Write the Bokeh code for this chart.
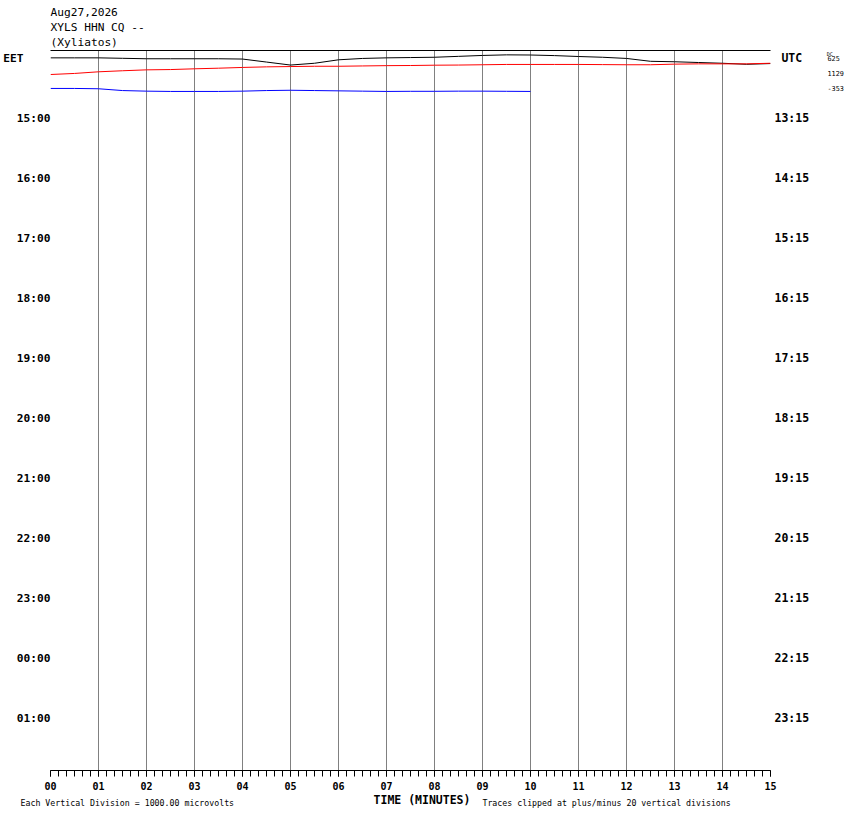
from bokeh.plotting import figure
from bokeh.models import Range1d, LinearAxis, FixedTicker, Label
from bokeh.embed import file_html
from bokeh.resources import INLINE

# ---- data ----
minutes = [i * 0.5 for i in range(31)]  # sample times (minutes)
black_trace = [0.01, 0.01, 0.01, -0.02, -0.05, -0.05, -0.05, -0.05, -0.07, -0.27,
               -0.47, -0.35, -0.12, -0.03, 0.01, 0.03, 0.05, 0.11, 0.17, 0.21,
               0.20, 0.16, 0.10, 0.05, -0.03, -0.22, -0.25, -0.30, -0.35, -0.42, -0.37]
red_trace = [-0.10, -0.03, 0.08, 0.15, 0.21, 0.23, 0.28, 0.32, 0.37, 0.41,
             0.43, 0.45, 0.45, 0.47, 0.49, 0.50, 0.52, 0.53, 0.55, 0.57,
             0.57, 0.57, 0.57, 0.56, 0.55, 0.55, 0.59, 0.61, 0.61, 0.61, 0.65]
blue_minutes = minutes[:21]
blue_trace = [-0.03, -0.03, -0.05, -0.17, -0.21, -0.23, -0.23, -0.23, -0.21, -0.17,
              -0.15, -0.17, -0.19, -0.21, -0.23, -0.22, -0.22, -0.21, -0.21, -0.22, -0.23]
trace_rows = [0, 1, 2]
trace_colors = ["black", "red", "blue"]
dc_offsets = ["625", "1129", "-353"]

eet_labels = ["15:00", "16:00", "17:00", "18:00", "19:00", "20:00",
              "21:00", "22:00", "23:00", "00:00", "01:00"]
utc_labels = ["13:15", "14:15", "15:15", "16:15", "17:15", "18:15",
              "19:15", "20:15", "21:15", "22:15", "23:15"]
minute_labels = ["%02d" % m for m in range(16)]

title_lines = ["Aug27,2026", "XYLS HHN CQ --", "(Xyliatos)"]
footer_left = "Each Vertical Division = 1000.00 microvolts"
footer_right = "Traces clipped at plus/minus 20 vertical divisions"
time_label = "TIME (MINUTES)"

FONT = "DejaVu Sans Mono"
NB = "\u00a0"
n_rows = 48
hour_rows = [4 * (i + 1) for i in range(len(eet_labels))]

p = figure(frame_width=720, frame_height=720,
           x_range=Range1d(0, 15), y_range=Range1d(-(n_rows - 0.5), 0.5),
           output_backend="svg", toolbar_location=None,
           min_border_left=50, min_border_right=78, min_border_top=50, min_border_bottom=44)
p.outline_line_color = None
p.background_fill_color = "white"
p.border_fill_color = "white"

# bottom axis (minutes)
xticker = FixedTicker(ticks=list(range(16)), minor_ticks=[i / 6 for i in range(91)])
xa = p.xaxis[0]
xa.ticker = xticker
xa.major_label_overrides = {i: minute_labels[i] for i in range(16)}
xa.axis_line_color = "black"
xa.major_tick_in = 0
xa.major_tick_out = 6
xa.minor_tick_in = 0
xa.minor_tick_out = 6
xa.major_tick_line_color = "black"
xa.minor_tick_line_color = "black"
xa.major_label_standoff = 5
xa.major_label_text_font = FONT
xa.major_label_text_font_style = "bold"
xa.major_label_text_font_size = "10px"
xa.major_label_text_color = "black"

# left axis (EET)
left_ticks = [0] + [-r for r in hour_rows]
left_over = {0: "EET" + NB * 4}
left_over.update({-r: lab for r, lab in zip(hour_rows, eet_labels)})
ya = p.yaxis[0]
ya.ticker = FixedTicker(ticks=left_ticks, minor_ticks=[])
ya.major_label_overrides = left_over
ya.axis_line_color = None
ya.major_tick_line_color = None
ya.major_tick_in = 0
ya.major_tick_out = 0
ya.minor_tick_line_color = None
ya.minor_tick_out = 0
ya.major_label_standoff = 0
ya.major_label_text_font = FONT
ya.major_label_text_font_style = "bold"
ya.major_label_text_font_size = "11.2px"
ya.major_label_text_color = "black"

# right axis (UTC)
right_over = {0: NB + "UTC"}
right_over.update({-r: lab for r, lab in zip(hour_rows, utc_labels)})
ra = LinearAxis(ticker=FixedTicker(ticks=left_ticks, minor_ticks=[]),
                major_label_overrides=right_over,
                axis_line_color=None, major_tick_line_color=None, minor_tick_line_color=None,
                major_tick_in=0, major_tick_out=0, minor_tick_out=0, major_label_standoff=4,
                major_label_text_font=FONT, major_label_text_font_style="bold",
                major_label_text_font_size="11.5px", major_label_text_color="black")
p.add_layout(ra, "right")

# DC offsets per trace (second right axis)
dca = LinearAxis(ticker=FixedTicker(ticks=[-r for r in trace_rows], minor_ticks=[]),
                 major_label_overrides={-r: d for r, d in zip(trace_rows, dc_offsets)},
                 axis_line_color=None, major_tick_line_color=None, minor_tick_line_color=None,
                 major_tick_in=0, major_tick_out=0, minor_tick_out=0, major_label_standoff=15,
                 major_label_text_font=FONT, major_label_text_font_size="6.8px",
                 major_label_text_color="black")
p.add_layout(dca, "right")

# top border line
ta = LinearAxis(ticker=FixedTicker(ticks=[], minor_ticks=[]), axis_line_color="black",
                major_tick_line_color=None, minor_tick_line_color=None,
                major_tick_in=0, major_tick_out=0, minor_tick_in=0, minor_tick_out=0,
                major_label_text_font_size="1px")
p.add_layout(ta, "above")

p.xgrid.ticker = xticker
p.xgrid.grid_line_color = "#808080"
p.xgrid.grid_line_width = 1
p.ygrid.visible = False

# traces
p.line(minutes, [-trace_rows[0] + v for v in black_trace], line_color=trace_colors[0], line_width=1)
p.line(minutes, [-trace_rows[1] + v for v in red_trace], line_color=trace_colors[1], line_width=1)
p.line(blue_minutes, [-trace_rows[2] + v for v in blue_trace], line_color=trace_colors[2], line_width=1)


def lab(x, y, text, size, side, bold=False):
    p.add_layout(Label(x=x, y=y, text=text, text_font=FONT, text_font_size=size,
                       text_font_style="bold" if bold else "normal", text_color="black",
                       text_align="left", text_baseline="middle"), side)


# title lines (top panel, positioned in data coordinates)
for i, t in enumerate(title_lines):
    lab(0, 3.02 - i, t, "11.2px", "above")

# footer texts
lab(-0.625, -49.67, footer_left + NB * 50 + footer_right, "8.25px", "above")
lab(6.73, -49.45, time_label, "11.5px", "below", bold=True)

# "DC" marker above the offsets
lab(16.17, 0.3, "DC", "5px", "below")

open("out.html", "w").write(file_html(p, INLINE))
